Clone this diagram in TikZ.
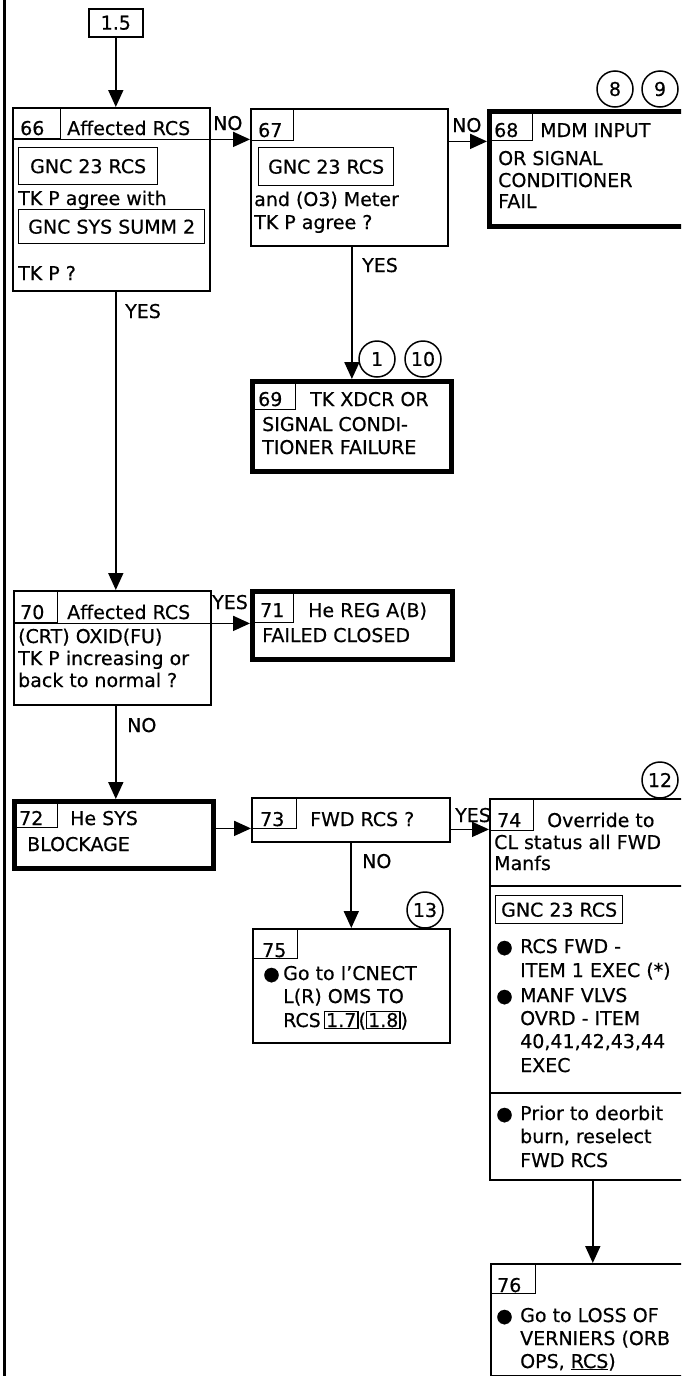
\documentclass[tikz,border=0pt]{standalone}
\usepackage{fontspec}
\setmainfont[FakeBold=0.5]{DejaVu Sans}
\usetikzlibrary{arrows.meta}
\newcommand{\fsz}{\fontsize{19}{23}\selectfont}
\newcommand{\fbx}[1]{{\setlength{\fboxsep}{1pt}\setlength{\fboxrule}{1.2pt}\fbox{#1}}}
\tikzset{
  bx/.style={draw, line width=1.6pt, rectangle, inner sep=0pt, anchor=north west, font=\fsz},
  tbx/.style={bx, line width=4.8pt},
  hb/.style={bx, line width=1.4pt},
  gbox/.style={bx, line width=1.4pt},
  tx/.style={anchor=base west, inner sep=0pt, font=\fsz},
  circ/.style={draw, circle, line width=1.5pt, minimum size=36pt, inner sep=0pt, font=\fsz},
  arr/.style={line width=1.8pt, -{Triangle[length=17pt,width=15pt]}},
  sepline/.style={line width=1.6pt}
}
\begin{document}
\begin{tikzpicture}[x=1pt,y=-1pt]
\useasboundingbox (0,0) rectangle (681,1376);
\clip (0,0) rectangle (681,1376);
\draw[line width=3pt] (4,0) -- (4,1376);

% 1.5
\node[bx, minimum width=54pt, minimum height=28pt] (b15) at (88,8) {1.5};

% 66
\node[bx, minimum width=197pt, minimum height=183pt] (b66) at (12,107) {};
\node[hb, minimum width=48pt, minimum height=31pt] (h66) at (12,107) {};
\draw[sepline] (b66.west |- h66.south) -- (b66.east |- h66.south);
\node[tx] (t66a) at (20,135) {66};
\node[tx] (t66b) at (67,135) {Affected RCS};
\node[gbox, minimum width=139pt, minimum height=37pt] (g66a) at (18,147) {GNC 23 RCS};
\node[tx] (t66c) at (18,205) {TK P agree with};
\node[gbox, minimum width=186pt, minimum height=34pt] (g66b) at (18,209) {GNC SYS SUMM 2};
\node[tx] (t66d) at (18,280) {TK P ?};

% 67
\node[bx, minimum width=197pt, minimum height=137pt] (b67) at (250,108) {};
\node[hb, minimum width=43pt, minimum height=32pt] (h67) at (250,108) {};
\node[tx] (t67a) at (258,137) {67};
\node[gbox, minimum width=135pt, minimum height=38pt] (g67) at (258,147) {GNC 23 RCS};
\node[tx] (t67b) at (254,206) {and (O3) Meter};
\node[tx] (t67c) at (254,229) {TK P agree ?};

% 68
\node[tbx, minimum width=213pt, minimum height=115pt] (b68) at (487,109) {};
\node[hb, minimum width=45pt, minimum height=31pt] (h68) at (487,109) {};
\node[tx] (t68a) at (494,137) {68};
\node[tx] (t68b) at (540,137) {MDM INPUT};
\node[tx] (t68c) at (498,165) {OR SIGNAL};
\node[tx] (t68d) at (498,187) {CONDITIONER};
\node[tx] (t68e) at (498,208) {FAIL};
\node[circ] (c8) at (615,89) {8};
\node[circ] (c9) at (660,89) {9};

% 69
\node[tbx, minimum width=199pt, minimum height=90pt] (b69) at (250,379) {};
\node[hb, minimum width=45pt, minimum height=30pt] (h69) at (250,379) {};
\node[tx] (t69a) at (258,406) {69};
\node[tx] (t69b) at (310,406) {TK XDCR OR};
\node[tx] (t69c) at (262,431) {SIGNAL CONDI-};
\node[tx] (t69d) at (262,454) {TIONER FAILURE};
\node[circ] (c1) at (377,359) {1};
\node[circ] (c10) at (423,359) {10};

% 70
\node[bx, minimum width=197pt, minimum height=114pt] (b70) at (13,590) {};
\node[hb, minimum width=44pt, minimum height=32pt] (h70) at (13,590) {};
\draw[sepline] (b70.west |- h70.south) -- (b70.east |- h70.south);
\node[tx] (t70a) at (20,619) {70};
\node[tx] (t70b) at (67,619) {Affected RCS};
\node[tx] (t70c) at (18,643) {(CRT) OXID(FU)};
\node[tx] (t70d) at (18,665) {TK P increasing or};
\node[tx] (t70e) at (18,687) {back to normal ?};

% 71
\node[tbx, minimum width=200pt, minimum height=68pt] (b71) at (250,589) {};
\node[hb, minimum width=43pt, minimum height=33pt] (h71) at (250,589) {};
\node[tx] (t71a) at (260,617) {71};
\node[tx] (t71b) at (308,617) {He REG A(B)};
\node[tx] (t71c) at (262,642) {FAILED CLOSED};

% 72
\node[tbx, minimum width=199pt, minimum height=67pt] (b72) at (12,799) {};
\node[hb, minimum width=45pt, minimum height=28pt] (h72) at (12,799) {};
\node[tx] (t72a) at (19,825) {72};
\node[tx] (t72b) at (70,825) {He SYS};
\node[tx] (t72c) at (27,851) {BLOCKAGE};

% 73
\node[bx, minimum width=198pt, minimum height=44pt] (b73) at (251,797) {};
\node[hb, minimum width=45pt, minimum height=31pt] (h73) at (251,797) {};
\node[tx] (t73a) at (260,826) {73};
\node[tx] (t73b) at (310,826) {FWD RCS ?};

% 74
\node[bx, minimum width=206pt, minimum height=381pt] (b74) at (489,798) {};
\node[hb, minimum width=44pt, minimum height=32pt] (h74) at (489,798) {};
\draw[sepline] (b74.west |- 0,886) -- (b74.east |- 0,886);
\draw[sepline] (b74.west |- 0,1093) -- (b74.east |- 0,1093);
\node[tx] (t74a) at (497,827) {74};
\node[tx] (t74b) at (547,827) {Override to};
\node[tx] (t74c) at (494,849) {CL status all FWD};
\node[tx] (t74d) at (494,870) {Manfs};
\node[gbox, minimum width=127pt, minimum height=28pt] (g74) at (495,895) {GNC 23 RCS};
\node[tx] (t74e) at (496,953) {\makebox[24pt][l]{●}RCS FWD -};
\node[tx] (t74f) at (520,977) {ITEM 1 EXEC (*)};
\node[tx] (t74g) at (496,1002) {\makebox[24pt][l]{●}MANF VLVS};
\node[tx] (t74h) at (520,1025) {OVRD - ITEM};
\node[tx] (t74i) at (520,1048) {40,41,42,43,44};
\node[tx] (t74j) at (520,1072) {EXEC};
\node[tx] (t74k) at (496,1120) {\makebox[24pt][l]{●}Prior to deorbit};
\node[tx] (t74l) at (520,1143) {burn, reselect};
\node[tx] (t74m) at (520,1167) {FWD RCS};
\node[circ] (c12) at (660,780) {12};

% 75
\node[bx, minimum width=197pt, minimum height=114pt] (b75) at (252,928) {};
\node[hb, minimum width=45pt, minimum height=30pt] (h75) at (252,928) {};
\node[tx] (t75a) at (262,957) {75};
\node[tx] (t75b) at (263,980) {\makebox[20pt][l]{●}Go to I’CNECT};
\node[tx] (t75c) at (283,1003) {L(R) OMS TO};
\node[tx] (t75d) at (283,1027) {RCS\,\fbx{1.7}(\fbx{1.8})};
\node[circ] (c13) at (425,910) {13};

% 76
\node[bx, minimum width=204pt, minimum height=112pt] (b76) at (490,1263) {};
\node[hb, minimum width=45pt, minimum height=30pt] (h76) at (490,1263) {};
\node[tx] (t76a) at (497,1292) {76};
\node[tx] (t76b) at (496,1322) {\makebox[24pt][l]{●}Go to LOSS OF};
\node[tx] (t76c) at (520,1345) {VERNIERS (ORB};
\node[tx] (t76d) at (520,1368) {OPS, \underline{RCS})};

% connectors
\draw[arr] (b15.south) -- (b15.south |- b66.north);
\draw[arr] (b66.east |- h66.south) -- (b67.west |- h66.south);
\node[tx] (l1) at (213,130) {NO};
\draw[arr] (b67.east |- h67.south) -- (b68.west |- h67.south);
\node[tx] (l2) at (452,132) {NO};
\draw[arr] (b15.south |- b66.south) -- (b15.south |- b70.north);
\node[tx] (l3) at (125,318) {YES};
\draw[arr] (b69.north |- b67.south) -- (b69.north);
\node[tx] (l4) at (362,272) {YES};
\draw[arr] (b70.east |- h70.south) -- (b71.west |- h70.south);
\node[tx] (l5) at (212,609) {YES};
\draw[arr] (b15.south |- b70.south) -- (b15.south |- b72.north);
\node[tx] (l6) at (127,732) {NO};
\draw[arr] (b72.east |- h72.south) -- (b73.west |- h72.south);
\draw[arr] (b73.east |- h73.south) -- (b74.west |- h73.south);
\node[tx] (l7) at (455,822) {YES};
\draw[arr] (b75.north |- b73.south) -- (b75.north);
\node[tx] (l8) at (362,868) {NO};
\draw[arr] (b74.south) -- (b74.south |- b76.north);
\end{tikzpicture}
\end{document}
